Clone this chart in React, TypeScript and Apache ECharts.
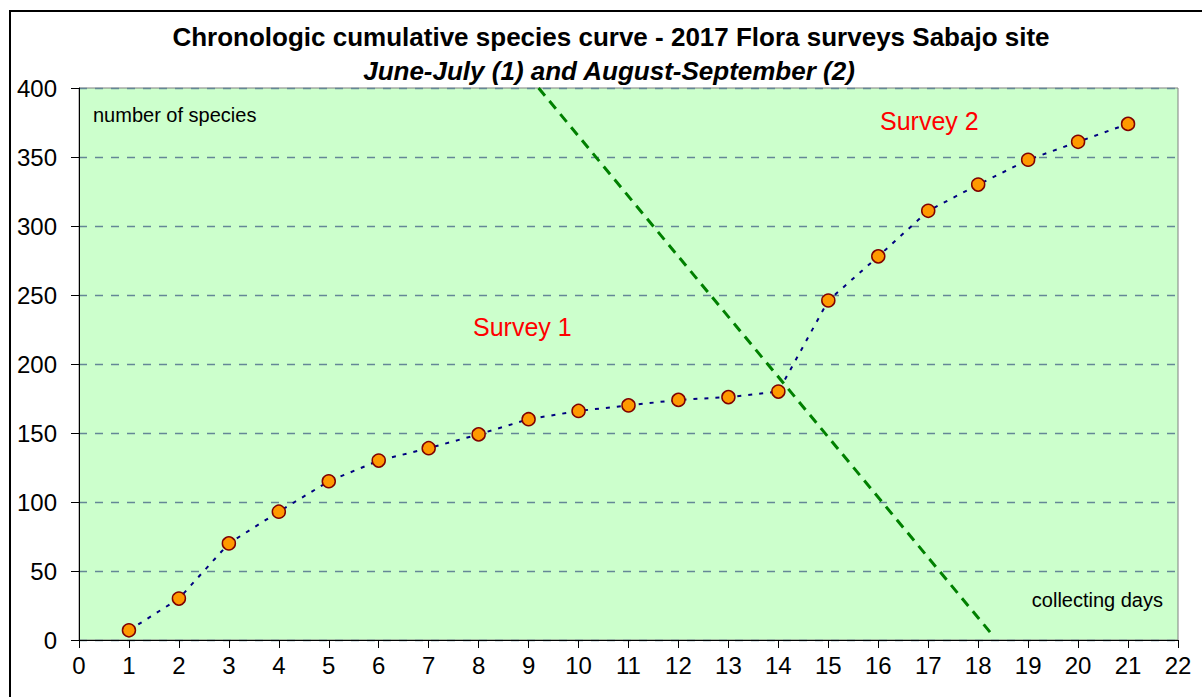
import React, { useEffect, useRef } from "react";
import * as echarts from "echarts";

const days = [1, 2, 3, 4, 5, 6, 7, 8, 9, 10, 11, 12, 13, 14, 15, 16, 17, 18, 19, 20, 21];
const species = [7, 30, 70, 93, 115, 130, 139, 149, 160, 166, 170, 174, 176, 180, 246, 278, 311, 330, 348, 361, 374];
const dividerX = [9.2, 18.3];
const dividerY = [400, 3];
const titleText = "Chronologic cumulative species curve - 2017 Flora surveys Sabajo site";
const subtitleText = "June-July (1) and August-September (2)";

const FONT = "'Liberation Sans', Arial, Helvetica, sans-serif";

export default function App() {
  const ref = useRef<HTMLDivElement>(null);
  useEffect(() => {
    if (!ref.current) return;
    const chart = echarts.init(ref.current, undefined, { renderer: "svg" });
    chart.setOption({
      animation: false,
      backgroundColor: "#ffffff",
      textStyle: { fontFamily: FONT },
      grid: {
        left: 79,
        right: 24,
        top: 88,
        bottom: 57,
        show: true,
        backgroundColor: "#ccffcc",
        borderColor: "#808080",
        borderWidth: 1,
      },
      xAxis: {
        type: "value",
        min: 0,
        max: 22,
        interval: 1,
        axisLine: { show: true, onZero: false, lineStyle: { color: "#000000", width: 1 } },
        axisTick: { show: true, inside: false, length: 8, lineStyle: { color: "#000000" } },
        axisLabel: { color: "#000000", fontSize: 24, margin: 13, fontFamily: FONT },
        splitLine: { show: false },
      },
      yAxis: {
        type: "value",
        min: 0,
        max: 400,
        interval: 50,
        axisLine: { show: true, lineStyle: { color: "#000000", width: 1 } },
        axisTick: { show: true, inside: false, length: 8, lineStyle: { color: "#000000" } },
        axisLabel: { color: "#000000", fontSize: 24, margin: 22, fontFamily: FONT },
        splitLine: { show: true, lineStyle: { color: "#648796", type: [8, 8], width: 1.3 } },
      },
      series: [
        {
          type: "line",
          data: days.map((d, i) => [d, species[i]]),
          symbol: "circle",
          symbolSize: 13,
          itemStyle: { color: "#ff9900", borderColor: "#800000", borderWidth: 1.5 },
          lineStyle: { color: "#000080", width: 2, type: [4, 7] },
          z: 3,
        },
        {
          type: "line",
          data: dividerX.map((x, i) => [x, dividerY[i]]),
          symbol: "none",
          lineStyle: { color: "#008000", width: 3, type: [10, 7] },
          z: 2,
        },
      ],
      graphic: [
        {
          type: "rect",
          shape: { x: 10, y: 11, width: 1200, height: 700 },
          style: { fill: "none", stroke: "#000000", lineWidth: 2 },
          silent: true,
        },
        {
          type: "text",
          x: 611,
          y: 37,
          style: {
            text: titleText,
            font: `bold 26px ${FONT}`,
            fill: "#000000",
            textAlign: "center",
            textVerticalAlign: "middle",
          },
        },
        {
          type: "text",
          x: 609,
          y: 71,
          style: {
            text: subtitleText,
            font: `italic bold 26px ${FONT}`,
            fill: "#000000",
            textAlign: "center",
            textVerticalAlign: "middle",
          },
        },
        {
          type: "text",
          x: 93,
          y: 115,
          style: { text: "number of species", font: `20px ${FONT}`, fill: "#000000", textAlign: "left", textVerticalAlign: "middle" },
          z: 10,
        },
        {
          type: "text",
          x: 1163,
          y: 600,
          style: { text: "collecting days", font: `20px ${FONT}`, fill: "#000000", textAlign: "right", textVerticalAlign: "middle" },
          z: 10,
        },
        {
          type: "text",
          x: 473,
          y: 327,
          style: { text: "Survey 1", font: `25px ${FONT}`, fill: "#ff0000", textAlign: "left", textVerticalAlign: "middle" },
          z: 10,
        },
        {
          type: "text",
          x: 880,
          y: 121,
          style: { text: "Survey 2", font: `25px ${FONT}`, fill: "#ff0000", textAlign: "left", textVerticalAlign: "middle" },
          z: 10,
        },
      ],
    });
    return () => chart.dispose();
  }, []);
  return (
    <div
      ref={ref}
      style={{ position: "fixed", left: 0, top: 0, width: 1202, height: 697 }}
    />
  );
}
